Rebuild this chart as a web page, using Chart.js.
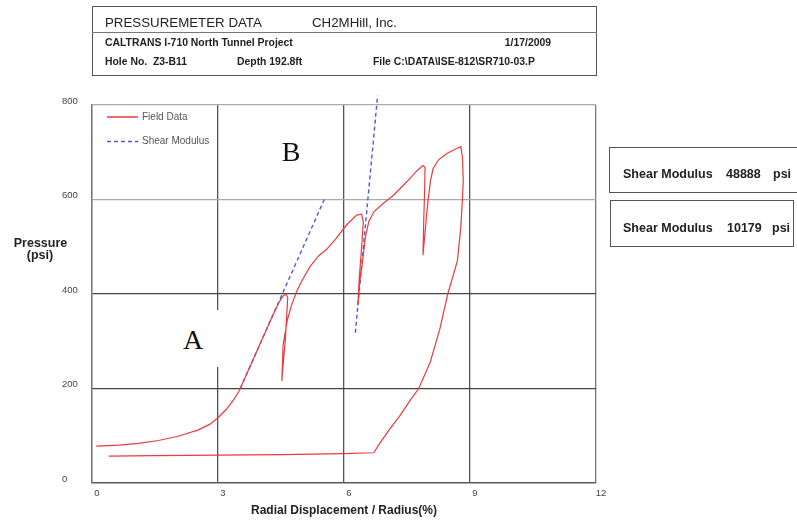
<!DOCTYPE html>
<html>
<head>
<meta charset="utf-8">
<script src="https://cdn.jsdelivr.net/npm/chart.js@4.4.1/dist/chart.umd.min.js"></script>
<style>
  html, body { margin: 0; padding: 0; background: #fff; }
  #wrap { position: relative; width: 797px; height: 520px; overflow: hidden;
          font-family: "Liberation Sans", Arial, sans-serif; color: #222; }
  #chart { position: absolute; left: 0; top: 0; }
  .t { position: absolute; white-space: pre; line-height: 14px; }
  .box { position: absolute; box-sizing: border-box; border: 1.5px solid #555; }
  .big { font-size: 13.3px; }
  .sm { font-size: 10.4px; font-weight: bold; }
  .sh { font-size: 12.5px; font-weight: bold; }
  .lab { position: absolute; font-family: "Liberation Serif", "Times New Roman", serif;
         font-size: 28px; line-height: 30px; width: 30px; text-align: center; color: #111; }
</style>
</head>
<body>
<div id="wrap">
  <canvas id="chart" width="797" height="520"></canvas>

  <!-- header block -->
  <div class="box" style="left:92px;top:6px;width:505px;height:70px;"></div>
  <div style="position:absolute;left:92px;top:32px;width:505px;border-top:1px solid #777;"></div>
  <span class="t big" style="left:105px;top:16px;">PRESSUREMETER DATA</span>
  <span class="t big" style="left:312px;top:16px;">CH2MHill, Inc.</span>
  <span class="t sm" style="left:105px;top:36px;">CALTRANS I-710 North Tunnel Project</span>
  <span class="t sm" style="right:246px;top:36px;">1/17/2009</span>
  <span class="t sm" style="left:105px;top:55px;">Hole No.  Z3-B11</span>
  <span class="t sm" style="left:237px;top:55px;">Depth 192.8ft</span>
  <span class="t sm" style="left:373px;top:55px;">File C:\DATA\ISE-812\SR710-03.P</span>

  <!-- modulus boxes -->
  <div class="box" style="left:609px;top:147px;width:200px;height:46px;"></div>
  <span class="t sh" style="left:623px;top:167px;">Shear Modulus</span>
  <span class="t sh" style="left:726px;top:167px;">48888</span>
  <span class="t sh" style="left:773px;top:167px;">psi</span>
  <div class="box" style="left:610px;top:200px;width:184px;height:47px;"></div>
  <span class="t sh" style="left:623px;top:221px;">Shear Modulus</span>
  <span class="t sh" style="left:727px;top:221px;">10179</span>
  <span class="t sh" style="left:772px;top:221px;">psi</span>

  <!-- y axis title -->
  <span class="t sh" style="left:0;width:81px;text-align:center;top:236px;">Pressure</span>
  <span class="t sh" style="left:0;width:80px;text-align:center;top:248px;">(psi)</span>

  <!-- A / B markers -->
  <div style="position:absolute;left:163px;top:310px;width:58px;height:57px;background:#fff;"></div>
  <span class="lab" style="left:178px;top:325px;">A</span>
  <span class="lab" style="left:276px;top:137px;">B</span>
</div>

<script>
// field curve (displacement %, pressure psi)
const fieldX = [0.10, 0.64, 1.11, 1.58, 2.05, 2.52, 2.80, 3.00, 3.20, 3.37, 3.50, 3.70, 4.00, 4.30, 4.45, 4.55, 4.62, 4.66,
  4.64, 4.60, 4.55, 4.52, 4.55, 4.65, 4.75, 4.87, 4.98, 5.19, 5.40, 5.58, 5.80, 6.06, 6.30, 6.42,
  6.46, 6.42, 6.36, 6.33, 6.38, 6.45, 6.51, 6.59, 6.71, 6.91, 7.18, 7.50, 7.75, 7.88, 7.93,
  7.92, 7.90, 7.88, 7.97, 8.01, 8.06, 8.12, 8.24, 8.44, 8.68, 8.78, 8.82, 8.84,
  8.82, 8.78, 8.70, 8.47, 8.28, 8.05, 7.78, 7.60, 7.32, 7.08, 6.85, 6.71, 6.00, 4.50, 3.00, 1.50, 0.40];
const fieldY = [78, 80, 84, 90, 99, 112, 124, 138, 156, 176, 194, 234, 294, 354, 382, 396, 400, 393,
  360, 300, 250, 216, 292, 344, 376, 405, 425, 458, 481, 494, 516, 546, 567, 569,
  553, 500, 429, 376, 429, 475, 521, 553, 574, 590, 609, 638, 662, 672, 668,
  620, 560, 482, 570, 605, 640, 665, 683, 697, 708, 712, 690, 640,
  600, 540, 470, 400, 325, 255, 200, 178, 141, 113, 84, 64, 62, 60, 59, 58, 57];

// the two shear modulus fit lines
const shearAX = [3.53, 5.53];
const shearAY = [200, 600];
const shearBX = [6.27, 6.80];
const shearBY = [318, 820];

const xTicks = [0, 3, 6, 9, 12];
const yTicks = [0, 200, 400, 600, 800];

const pts = (xs, ys) => xs.map((x, i) => ({ x: x, y: ys[i] }));

const RED = "#ec3b3b";
const BLUE = "#5656d8";

// small legend in the upper left corner of the plot
const cornerLegend = {
  id: "cornerLegend",
  afterDatasetsDraw(chart) {
    const ctx = chart.ctx;
    const a = chart.chartArea;
    const rows = [chart.data.datasets[0], chart.data.datasets[1]];
    ctx.save();
    ctx.font = "10px 'Liberation Sans', Arial, sans-serif";
    ctx.textBaseline = "middle";
    rows.forEach((ds, i) => {
      const y = a.top + 12 + i * 24.5;
      ctx.strokeStyle = ds.borderColor;
      ctx.lineWidth = 1.5;
      ctx.setLineDash(ds.borderDash || []);
      ctx.beginPath();
      ctx.moveTo(a.left + 15, y);
      ctx.lineTo(a.left + 46, y);
      ctx.stroke();
      ctx.fillStyle = "#555";
      ctx.fillText(ds.label, a.left + 50, y);
    });
    ctx.restore();
  },
};

new Chart(document.getElementById("chart"), {
  type: "scatter",
  data: {
    datasets: [
      {
        label: "Field Data",
        data: pts(fieldX, fieldY),
        showLine: true,
        borderColor: RED,
        borderWidth: 1.2,
        pointRadius: 0,
        tension: 0,
      },
      {
        label: "Shear Modulus",
        data: pts(shearAX, shearAY),
        showLine: true,
        borderColor: BLUE,
        borderWidth: 1.4,
        borderDash: [4, 3],
        pointRadius: 0,
      },
      {
        label: "Shear Modulus",
        data: pts(shearBX, shearBY),
        showLine: true,
        borderColor: BLUE,
        borderWidth: 1.4,
        borderDash: [4, 3],
        pointRadius: 0,
        clip: false,
      },
    ],
  },
  options: {
    responsive: false,
    animation: false,
    events: [],
    layout: { padding: { left: 62, top: 105, right: 201, bottom: 0 } },
    plugins: { legend: { display: false }, tooltip: { enabled: false } },
    scales: {
      x: {
        type: "linear",
        min: 0,
        max: 12,
        afterBuildTicks: (s) => { s.ticks = xTicks.map((v) => ({ value: v })); },
        afterFit: (s) => { s.height = 37; },
        ticks: {
          color: "#444",
          font: { family: "'Liberation Sans', Arial, sans-serif", size: 9.5 },
          padding: 5,
          labelOffset: 5,
          maxRotation: 0,
        },
        grid: {
          drawTicks: false,
          lineWidth: 1.3,
          color: (c) => (c.tick && c.tick.value === 12 ? "#777" : "#555"),
        },
        border: { color: "#555", width: 1.3 },
        title: {
          display: true,
          text: "Radial Displacement / Radius(%)",
          color: "#222",
          font: { family: "'Liberation Sans', Arial, sans-serif", size: 12, weight: "bold" },
          padding: { top: 0, bottom: 2 },
        },
      },
      y: {
        type: "linear",
        min: 0,
        max: 800,
        afterBuildTicks: (s) => { s.ticks = yTicks.map((v) => ({ value: v })); },
        afterFit: (s) => { s.width = 30; },
        ticks: {
          color: "#444",
          font: { family: "'Liberation Sans', Arial, sans-serif", size: 9.5 },
          crossAlign: "far",
          labelOffset: -4,
        },
        grid: {
          drawTicks: false,
          lineWidth: 1.3,
          color: (c) => (c.tick && c.tick.value >= 600 ? "#aaa" : "#444"),
        },
        border: { color: "#777", width: 1.3 },
      },
    },
  },
  plugins: [cornerLegend],
});
</script>
</body>
</html>
